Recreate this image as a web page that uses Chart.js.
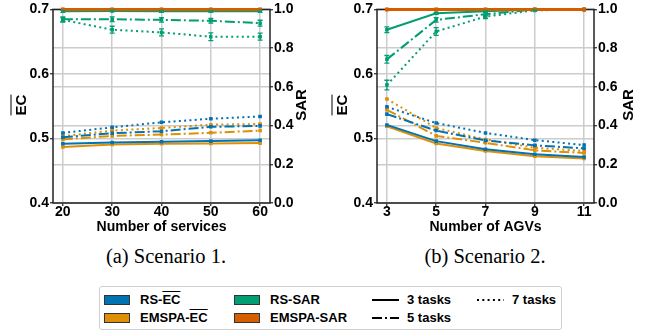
<!DOCTYPE html>
<html>
<head>
<meta charset="utf-8">
<script src="https://cdn.jsdelivr.net/npm/chart.js@4.4.0/dist/chart.umd.min.js"></script>
<style>
	body { margin: 0; background: #fff; }
	#wrap { position: relative; width: 651px; height: 334px; font-family: "Liberation Sans", Arial, sans-serif; }
	.box { position: absolute; top: 0; }
	.ytitle { position: absolute; width: 0; height: 0; }
	.ytitle span { position: absolute; white-space: nowrap; font-weight: bold; font-size: 15px; transform: translate(-50%, -50%) rotate(-90deg); }
	.ov { text-decoration: overline; }
	.caption { position: absolute; top: 245px; font-family: "Liberation Serif", "Times New Roman", serif; font-size: 20.5px; transform: translateX(-50%); white-space: nowrap; }
	#legend { position: absolute; left: 99px; top: 286px; width: 461px; height: 42px; border: 1px solid #cfcfcf; border-radius: 3px; }
	.item { position: absolute; font-weight: bold; font-size: 13px; line-height: 16px; white-space: nowrap; }
	.patch { position: absolute; width: 24px; height: 8px; border: 1px solid #333; }
</style>
</head>
<body>
<div id="wrap">
	<div class="box" style="left:0px"><canvas id="c1" width="320" height="237"></canvas></div>
	<div class="box" style="left:320px"><canvas id="c2" width="331" height="237"></canvas></div>

	<div class="ytitle" style="left:20px;top:105px"><span class="ov">EC</span></div>
	<div class="ytitle" style="left:300px;top:105px"><span>SAR</span></div>
	<div class="ytitle" style="left:341px;top:105px"><span class="ov">EC</span></div>
	<div class="ytitle" style="left:627px;top:105px"><span>SAR</span></div>

	<div class="caption" style="left:166px">(a) Scenario 1.</div>
	<div class="caption" style="left:485px">(b) Scenario 2.</div>

	<div id="legend"></div>
</div>
<script>
// x categories
const services = [20, 30, 40, 50, 60];
const agvs = [3, 5, 7, 9, 11];
const ecTicks = [0.4, 0.5, 0.6, 0.7];
const sarTicks = [0, 0.2, 0.4, 0.6, 0.8, 1.0];

// Scenario 1 - EC
const rsEc1_3 = [0.4917, 0.4938, 0.4948, 0.4959, 0.4974];
const emEc1_3 = [0.4867, 0.4907, 0.4917, 0.4923, 0.4928];
const rsEc1_5 = [0.5020, 0.5080, 0.5112, 0.5180, 0.5195];
const emEc1_5 = [0.4985, 0.5040, 0.5060, 0.5087, 0.5122];
const rsEc1_7 = [0.5086, 0.5173, 0.5250, 0.5306, 0.5340];
const emEc1_7 = [0.5035, 0.5122, 0.5163, 0.5214, 0.5224];
// Scenario 1 - SAR
const rsSar1_3 = [0.990, 0.992, 0.990, 0.990, 0.990];
const rsSar1_5 = [0.949, 0.949, 0.946, 0.941, 0.929];
const rsSar1_7 = [0.946, 0.895, 0.881, 0.859, 0.859];
const emSar1 = [1, 1, 1, 1, 1];
const rsSarErr1_3 = [0.005, 0.004, 0.005, 0.005, 0.005];
const rsSarErr1_5 = [0.012, 0.012, 0.012, 0.012, 0.015];
const rsSarErr1_7 = [0.012, 0.018, 0.018, 0.020, 0.018];

// Scenario 2 - EC
const rsEc2_3 = [0.5210, 0.4959, 0.4832, 0.4755, 0.4714];
const emEc2_3 = [0.5190, 0.4923, 0.4806, 0.4724, 0.4688];
const rsEc2_5 = [0.5377, 0.5122, 0.4970, 0.4893, 0.4847];
const emEc2_5 = [0.5444, 0.5040, 0.4933, 0.4816, 0.4775];
const rsEc2_7 = [0.5490, 0.5239, 0.5086, 0.4974, 0.4898];
const emEc2_7 = [0.5613, 0.5162, 0.4985, 0.4856, 0.4806];
// Scenario 2 - SAR
const rsSar2_3 = [0.895, 0.980, 0.990, 1.0, 1.0];
const rsSar2_5 = [0.742, 0.946, 0.975, 1.0, 1.0];
const rsSar2_7 = [0.609, 0.886, 0.963, 0.995, 1.0];
const emSar2 = [1, 1, 1, 1, 1];
const rsSarErr2_3 = [0.015, 0.005, 0.003, 0, 0];
const rsSarErr2_5 = [0.020, 0.012, 0.008, 0, 0];
const rsSarErr2_7 = [0.025, 0.020, 0.010, 0.003, 0];

const BLUE = '#0173B2', ORANGE = '#DE8F05', GREEN = '#029E73', RED = '#D55E00';
const SOLID = [], DASHDOT = [10, 3, 2, 3], DOTTED = [2, 3.3];
const font = { family: "'Liberation Sans', Arial, sans-serif", size: 14, weight: 'bold' };
const gridColor = '#cccccc';

function serie(xs, ys, color, dash, axis, errs, width) {
	return {
		data: xs.map((x, i) => ({ x: x, y: ys[i] })),
		borderColor: color,
		backgroundColor: color,
		borderWidth: width || 2,
		borderDash: dash,
		pointStyle: 'rect',
		pointRadius: 2.5,
		pointBorderWidth: 0,
		yAxisID: axis,
		errors: errs,
		clip: 6
	};
}

// draw the black frame under the lines
const marco = {
	id: 'marco',
	beforeDatasetsDraw(chart) {
		const a = chart.chartArea, ctx = chart.ctx;
		ctx.save();
		ctx.strokeStyle = '#222';
		ctx.lineWidth = 1.5;
		ctx.strokeRect(a.left, a.top, a.right - a.left, a.bottom - a.top);
		ctx.restore();
	}
};

// vertical error bars for the SAR points
const barras = {
	id: 'barras',
	afterDatasetsDraw(chart) {
		const ctx = chart.ctx;
		chart.data.datasets.forEach((ds, i) => {
			if (!ds.errors) return;
			const meta = chart.getDatasetMeta(i);
			const ys = chart.scales[ds.yAxisID];
			ctx.save();
			ctx.strokeStyle = ds.borderColor;
			ctx.lineWidth = 1.3;
			meta.data.forEach((p, j) => {
				const e = ds.errors[j];
				if (!e) return;
				const v = ds.data[j].y;
				const y0 = ys.getPixelForValue(v - e), y1 = ys.getPixelForValue(Math.min(v + e, 1.005));
				ctx.beginPath();
				ctx.moveTo(p.x, y0); ctx.lineTo(p.x, y1);
				ctx.moveTo(p.x - 2.5, y0); ctx.lineTo(p.x + 2.5, y0);
				ctx.moveTo(p.x - 2.5, y1); ctx.lineTo(p.x + 2.5, y1);
				ctx.stroke();
			});
			ctx.restore();
		});
	}
};

function escalas(xs, titulo, anchoIzq, anchoDer) {
	const pad = (xs[xs.length - 1] - xs[0]) * 0.05;
	const grid = { color: gridColor, lineWidth: 1.5, tickLength: 3, tickColor: '#222', tickWidth: 1.2 };
	return {
		x: {
			type: 'linear', min: xs[0] - pad, max: xs[xs.length - 1] + pad,
			afterBuildTicks: s => { s.ticks = xs.map(v => ({ value: v })); },
			ticks: { font: font, color: '#000', padding: -2, maxRotation: 0 },
			grid: grid, border: { display: false },
			title: { display: true, text: titulo, font: font, color: '#000', padding: { top: 0, bottom: 1 } },
			afterFit: s => { s.height = 34; }
		},
		y: {
			position: 'left', min: 0.4, max: 0.7,
			afterBuildTicks: s => { s.ticks = ecTicks.map(v => ({ value: v })); },
			ticks: { font: font, color: '#000', padding: 1, callback: v => v.toFixed(1) },
			grid: grid, border: { display: false },
			afterFit: s => { s.width = anchoIzq; }
		},
		y1: {
			position: 'right', min: 0, max: 1,
			afterBuildTicks: s => { s.ticks = sarTicks.map(v => ({ value: v })); },
			ticks: { font: font, color: '#000', padding: 1, callback: v => v.toFixed(1) },
			grid: grid, border: { display: false },
			afterFit: s => { s.width = anchoDer; }
		}
	};
}

function grafico(id, xs, titulo, d, anchoIzq, anchoDer) {
	const datasets = [
		serie(xs, d.emSar, RED, DOTTED, 'y1', null, 2.5),
		serie(xs, d.emSar, RED, DASHDOT, 'y1', null, 2.5),
		serie(xs, d.emSar, RED, SOLID, 'y1', null, 3),
		serie(xs, d.rsSar3, GREEN, SOLID, 'y1', d.rsSarErr3),
		serie(xs, d.rsSar5, GREEN, DASHDOT, 'y1', d.rsSarErr5),
		serie(xs, d.rsSar7, GREEN, DOTTED, 'y1', d.rsSarErr7),
		serie(xs, d.rsEc7, BLUE, DOTTED, 'y'),
		serie(xs, d.rsEc5, BLUE, DASHDOT, 'y'),
		serie(xs, d.rsEc3, BLUE, SOLID, 'y'),
		serie(xs, d.emEc7, ORANGE, DOTTED, 'y'),
		serie(xs, d.emEc5, ORANGE, DASHDOT, 'y'),
		serie(xs, d.emEc3, ORANGE, SOLID, 'y')
	];
	new Chart(document.getElementById(id), {
		type: 'line',
		data: { datasets: datasets },
		options: {
			responsive: false,
			animation: false,
			layout: { autoPadding: false, padding: { top: 7, left: 0, right: 0, bottom: 0 } },
			plugins: { legend: { display: false }, tooltip: { enabled: false } },
			scales: escalas(xs, titulo, anchoIzq, anchoDer)
		},
		plugins: [marco, barras]
	});
}

grafico('c1', services, 'Number of services', {
	rsEc3: rsEc1_3, rsEc5: rsEc1_5, rsEc7: rsEc1_7,
	emEc3: emEc1_3, emEc5: emEc1_5, emEc7: emEc1_7,
	rsSar3: rsSar1_3, rsSar5: rsSar1_5, rsSar7: rsSar1_7, emSar: emSar1,
	rsSarErr3: rsSarErr1_3, rsSarErr5: rsSarErr1_5, rsSarErr7: rsSarErr1_7
}, 53, 50);

grafico('c2', agvs, 'Number of AGVs', {
	rsEc3: rsEc2_3, rsEc5: rsEc2_5, rsEc7: rsEc2_7,
	emEc3: emEc2_3, emEc5: emEc2_5, emEc7: emEc2_7,
	rsSar3: rsSar2_3, rsSar5: rsSar2_5, rsSar7: rsSar2_7, emSar: emSar2,
	rsSarErr3: rsSarErr2_3, rsSarErr5: rsSarErr2_5, rsSarErr7: rsSarErr2_7
}, 57, 57);

// legend
const items = [
	{ tipo: 'patch', color: BLUE, html: 'RS-<span class="ov">EC</span>', x: 4, y: 5 },
	{ tipo: 'patch', color: ORANGE, html: 'EMSPA-<span class="ov">EC</span>', x: 4, y: 23 },
	{ tipo: 'patch', color: GREEN, html: 'RS-SAR', x: 134, y: 5 },
	{ tipo: 'patch', color: RED, html: 'EMSPA-SAR', x: 134, y: 23 },
	{ tipo: 'line', dash: '', html: '3 tasks', x: 272, y: 5 },
	{ tipo: 'line', dash: '10,3,2,3', html: '5 tasks', x: 272, y: 23 },
	{ tipo: 'line', dash: '2,3.3', html: '7 tasks', x: 377, y: 5 }
];
let out = '';
items.forEach(it => {
	if (it.tipo == 'patch') {
		out += '<div class="patch" style="left:' + it.x + 'px;top:' + (it.y + 3) + 'px;background:' + it.color + '"></div>';
		out += '<div class="item" style="left:' + (it.x + 36) + 'px;top:' + it.y + 'px">' + it.html + '</div>';
	} else {
		out += '<svg style="position:absolute;left:' + it.x + 'px;top:' + (it.y + 4) + 'px" width="28" height="8">'
			+ '<line x1="0" y1="4" x2="27" y2="4" stroke="#000" stroke-width="2" stroke-dasharray="' + it.dash + '"/></svg>';
		out += '<div class="item" style="left:' + (it.x + 35) + 'px;top:' + it.y + 'px">' + it.html + '</div>';
	}
});
document.getElementById('legend').innerHTML = out;
</script>
</body>
</html>
